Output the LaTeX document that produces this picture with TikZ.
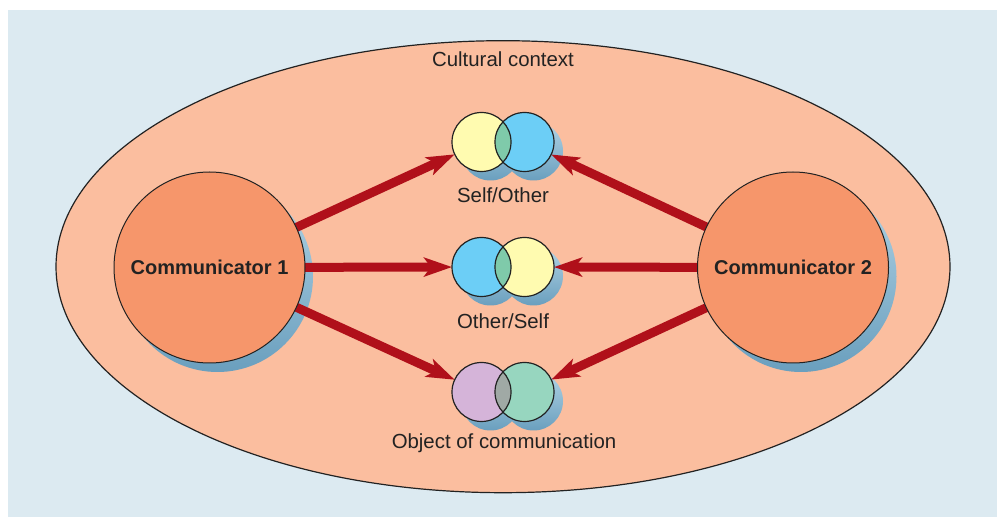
\documentclass[tikz,border=0pt]{standalone}
\usepackage{fontspec}
\setmainfont{Liberation Sans}
\usetikzlibrary{arrows.meta}
\pgfdeclarelayer{bg}
\pgfdeclarelayer{behind}
\pgfsetlayers{bg,behind,main}
\definecolor{bgblue}{HTML}{DCEAF1}
\definecolor{ellfill}{HTML}{FBBE9F}
\definecolor{commfill}{HTML}{F6966B}
\definecolor{arrowred}{HTML}{B0101A}
\definecolor{shadelight}{HTML}{B2D4E5}
\definecolor{shadedark}{HTML}{6A9FBE}
\definecolor{vyellow}{HTML}{FFFBB0}
\definecolor{vblue}{HTML}{6CCEF6}
\definecolor{vteal}{HTML}{7FCAAA}
\definecolor{vpurple}{HTML}{D5B4D9}
\definecolor{vgreen}{HTML}{97D6BF}
\definecolor{vgrey}{HTML}{A0A9A5}
\definecolor{ink}{HTML}{222222}
\tikzset{
  comm/.style={circle, draw=ink, line width=1pt, fill=commfill, minimum size=191pt, inner sep=0pt,
    font=\fontsize{20}{23}\selectfont\bfseries, text=ink},
  vcirc/.style={circle, minimum size=59pt, inner sep=0pt, outer sep=0pt},
  vline/.style={draw=ink, line width=1.2pt},
  lbl/.style={font=\fontsize{20.4}{24}\selectfont, text=ink, inner sep=0pt},
  bigarrow/.style={arrowred, line width=9pt, -{Stealth[length=28pt, width=19pt, inset=7pt]}, shorten <=-6pt},
  shadowfill/.style={top color=shadelight, bottom color=shadedark}
}
\begin{document}
\begin{tikzpicture}[x=1pt, y=-1pt]
\useasboundingbox (0,0) rectangle (997,518);
% nodes
\node[comm] (c1) at (209.5,267.5) {Communicator 1};
\node[comm] (c2) at (793,267.5) {Communicator 2};
\node[vcirc] (v1a) at (481.5,142) {};
\node[vcirc] (v1b) at (524.5,142) {};
\node[vcirc] (v2a) at (481.5,267) {};
\node[vcirc] (v2b) at (524.5,267) {};
\node[vcirc] (v3a) at (481.5,392) {};
\node[vcirc] (v3b) at (524.5,392) {};
\node[lbl] (tctx) at (503,59) {Cultural context};
\node[lbl] (t1) at (503,195) {Self/Other};
\node[lbl] (t2) at (503,321) {Other/Self};
\node[lbl] (t3) at (504,443) {Object of communication};
% background, ellipse, shadows
\begin{pgfonlayer}{bg}
\fill[bgblue] (8,10) rectangle (997,517);
\draw[ink, line width=1.2pt, fill=ellfill] (503,266.7) ellipse [x radius=447pt, y radius=226pt];
\shade[shadowfill] ([shift={(8,9)}]c1.center) circle [radius=95.5pt];
\shade[shadowfill] ([shift={(8,9)}]c2.center) circle [radius=95.5pt];
\foreach \a/\b in {v1a/v1b, v2a/v2b, v3a/v3b}{
  \shade[shadowfill] ([shift={(9,9)}]\a.center) circle [radius=29.5pt] ([shift={(9,9)}]\b.center) circle [radius=29.5pt];
}
\end{pgfonlayer}
% arrows
\begin{pgfonlayer}{behind}
\draw[bigarrow] (c1) -- (v1a);
\draw[bigarrow] (c1) -- (v2a);
\draw[bigarrow] (c1) -- (v3a);
\draw[bigarrow] (c2) -- (v1b);
\draw[bigarrow] (c2) -- (v2b);
\draw[bigarrow] (c2) -- (v3b);
\end{pgfonlayer}
% venn fills
\foreach \a/\b/\ca/\cb/\cc in {v1a/v1b/vyellow/vblue/vteal, v2a/v2b/vblue/vyellow/vteal, v3a/v3b/vpurple/vgreen/vgrey}{
  \fill[\ca] (\a.center) circle [radius=29.5pt];
  \fill[\cb] (\b.center) circle [radius=29.5pt];
  \begin{scope}
    \clip (\a.center) circle [radius=29.5pt];
    \fill[\cc] (\b.center) circle [radius=29.5pt];
  \end{scope}
  \draw[vline] (\a.center) circle [radius=29.5pt];
  \draw[vline] (\b.center) circle [radius=29.5pt];
}
\end{tikzpicture}
\end{document}
